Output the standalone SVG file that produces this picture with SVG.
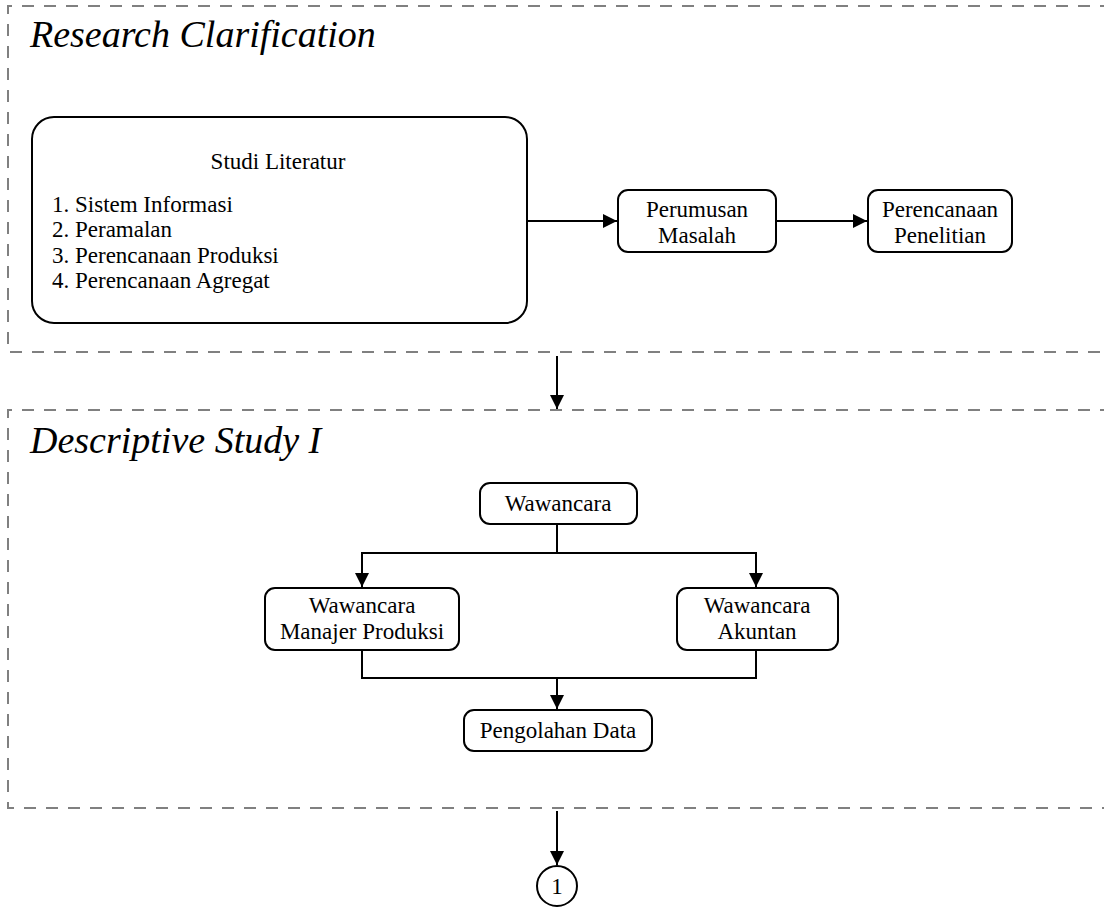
<svg xmlns="http://www.w3.org/2000/svg" width="1104" height="911" viewBox="0 0 1104 911">
<defs>
<style>
.sec{fill:none;stroke:#808080;stroke-width:2;stroke-dasharray:12 10}
.box{fill:#fff;stroke:#000;stroke-width:2}
.t{font-family:"Liberation Serif","Times New Roman",serif;font-size:23px;fill:#000}
.c{text-anchor:middle}
.title{font-family:"Liberation Serif","Times New Roman",serif;font-style:italic;font-size:38px;fill:#000}
.ln{fill:none;stroke:#000;stroke-width:2}
</style>
<marker id="ah" viewBox="0 0 10 10" refX="10" refY="5" markerWidth="7" markerHeight="7" orient="auto" markerUnits="strokeWidth">
<path d="M0,0 L10,5 L0,10 Z" fill="#000"/>
</marker>
</defs>
<rect width="1104" height="911" fill="#fff"/>
<g id="section1">
<path class="sec" d="M1112,6 H8 V352 H1112"/>
<text class="title" x="30" y="47">Research Clarification</text>
</g>
<g id="section2">
<path class="sec" d="M1112,410 H8 V808 H1112"/>
<text class="title" x="30" y="453">Descriptive Study I</text>
</g>
<g id="connectors">
<path class="ln" d="M527,221 H617" marker-end="url(#ah)"/>
<path class="ln" d="M776,221 H867" marker-end="url(#ah)"/>
<path class="ln" d="M557,356 V409" marker-end="url(#ah)"/>
<path class="ln" d="M557,524 V553 H362 V587" marker-end="url(#ah)"/>
<path class="ln" d="M557,553 H756 V587" marker-end="url(#ah)"/>
<path class="ln" d="M362,650 V678 H756 V650"/>
<path class="ln" d="M557,678 V709" marker-end="url(#ah)"/>
<path class="ln" d="M557,811 V865" marker-end="url(#ah)"/>
</g>
<g id="studi-literatur">
<rect class="box" x="32" y="117" width="495" height="206" rx="22"/>
<text class="t c" x="278" y="169">Studi Literatur</text>
<text class="t" x="52" y="212">1. Sistem Informasi</text>
<text class="t" x="52" y="237">2. Peramalan</text>
<text class="t" x="52" y="263">3. Perencanaan Produksi</text>
<text class="t" x="52" y="288">4. Perencanaan Agregat</text>
</g>
<g id="perumusan-masalah">
<rect class="box" x="618" y="190" width="158" height="62" rx="10"/>
<text class="t c" x="697" y="217">Perumusan</text>
<text class="t c" x="697" y="243">Masalah</text>
</g>
<g id="perencanaan-penelitian">
<rect class="box" x="868" y="190" width="144" height="62" rx="10"/>
<text class="t c" x="940" y="217">Perencanaan</text>
<text class="t c" x="940" y="243">Penelitian</text>
</g>
<g id="wawancara">
<rect class="box" x="480" y="483" width="157" height="41" rx="10"/>
<text class="t c" x="558" y="511">Wawancara</text>
</g>
<g id="wawancara-manajer">
<rect class="box" x="265" y="588" width="194" height="62" rx="10"/>
<text class="t c" x="362" y="613">Wawancara</text>
<text class="t c" x="362" y="639">Manajer Produksi</text>
</g>
<g id="wawancara-akuntan">
<rect class="box" x="677" y="588" width="161" height="62" rx="10"/>
<text class="t c" x="757" y="613">Wawancara</text>
<text class="t c" x="757" y="639">Akuntan</text>
</g>
<g id="pengolahan-data">
<rect class="box" x="464" y="710" width="188" height="41" rx="10"/>
<text class="t c" x="558" y="738">Pengolahan Data</text>
</g>
<g id="connector-1">
<circle class="box" cx="557" cy="886" r="20"/>
<text class="t c" x="557" y="894">1</text>
</g>
</svg>
